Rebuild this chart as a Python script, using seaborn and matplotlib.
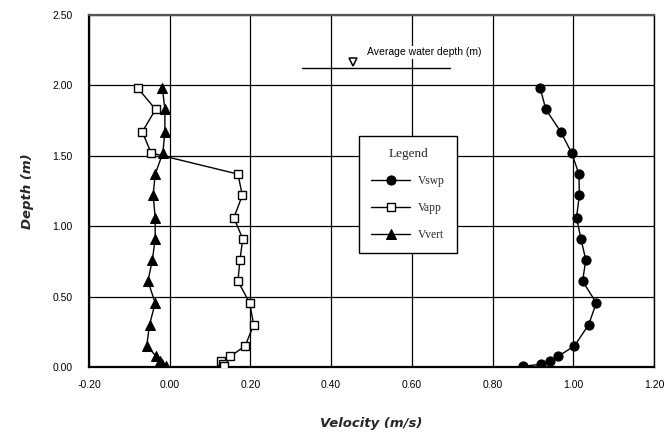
import numpy as np
import pandas as pd
import matplotlib
matplotlib.use("Agg")
import matplotlib.pyplot as plt
import seaborn as sns
from matplotlib.ticker import MultipleLocator, FormatStrFormatter

# ---- data ----
depth = [1.98, 1.83, 1.67, 1.52, 1.37, 1.22, 1.06, 0.91, 0.76, 0.61, 0.455, 0.30, 0.15,
         0.075, 0.045, 0.02, 0.005]
vswp = [0.918, 0.932, 0.969, 0.996, 1.014, 1.015, 1.008, 1.019, 1.031, 1.023, 1.057, 1.038,
        1.003, 0.962, 0.942, 0.920, 0.876]
vapp = [-0.079, -0.035, -0.068, -0.046, 0.169, 0.180, 0.159, 0.181, 0.174, 0.169, 0.198, 0.208,
        0.187, 0.150, 0.128, 0.133, 0.135]
vvert = [-0.018, -0.012, -0.012, -0.017, -0.036, -0.041, -0.036, -0.036, -0.043, -0.054, -0.036,
         -0.050, -0.057, -0.033, -0.025, -0.018, -0.010]
series_names = ["Vswp", "Vapp", "Vvert"]

x_ticks = [-0.20, 0.00, 0.20, 0.40, 0.60, 0.80, 1.00, 1.20]
y_ticks = [0.00, 0.50, 1.00, 1.50, 2.00, 2.50]

water_line_x = [0.327, 0.694]
water_line_y = [2.127, 2.127]
water_marker = (0.454, 2.163)
water_text = "Average water depth (m)"
water_text_pos = (0.488, 2.235)

# ---- figure ----
sns.set_theme(style="white")
plt.rcParams["font.family"] = ["Liberation Sans", "DejaVu Sans"]

fig = plt.figure(figsize=(6.67, 4.40), dpi=100)
ax = fig.add_axes([89 / 667, 1 - 367 / 440, (654 - 89) / 667, (367 - 15) / 440])

df = pd.DataFrame({"depth": depth, "Vswp": vswp, "Vapp": vapp, "Vvert": vvert})

styles = {
    "Vswp": dict(marker="o", markersize=6.6, markerfacecolor="black", markeredgecolor="black"),
    "Vapp": dict(marker="s", markersize=5.8, markerfacecolor="white", markeredgecolor="black",
                 markeredgewidth=1.0),
    "Vvert": dict(marker="^", markersize=6.8, markerfacecolor="black", markeredgecolor="black"),
}
for name in series_names:
    sns.lineplot(data=df, x=name, y="depth", sort=False, estimator=None, ax=ax,
                 color="black", linewidth=1.0, label=name, zorder=3, **styles[name])

# axis limits / ticks
ax.set_xlim(-0.2, 1.2)
ax.set_ylim(0.0, 2.5)
ax.set_xticks(x_ticks)
ax.set_yticks(y_ticks)
ax.xaxis.set_minor_locator(MultipleLocator(0.1))
ax.yaxis.set_minor_locator(MultipleLocator(0.1))
ax.xaxis.set_major_formatter(FormatStrFormatter("%.2f"))
ax.yaxis.set_major_formatter(FormatStrFormatter("%.2f"))
ax.tick_params(axis="both", which="major", direction="in", length=4, width=1,
               labelsize=7.5, colors="black")
ax.tick_params(axis="x", which="major", pad=9)
ax.tick_params(axis="y", which="major", pad=12)
ax.tick_params(axis="both", which="minor", direction="in", length=4, width=1, colors="black")
ax.tick_params(top=False, right=False, which="both")

ax.grid(True, which="major", color="black", linewidth=0.9)
ax.set_axisbelow(True)

for side in ["left", "bottom"]:
    ax.spines[side].set_linewidth(1.6)
    ax.spines[side].set_color("black")
ax.spines["right"].set_linewidth(1.0)
ax.spines["right"].set_color("black")
ax.spines["top"].set_linewidth(1.6)
ax.spines["top"].set_color("#555555")

ax.set_xlabel("Velocity (m/s)", fontsize=9.5, fontweight="bold", fontstyle="italic",
              family="DejaVu Sans", labelpad=20)
ax.set_ylabel("Depth (m)", fontsize=9.5, fontweight="bold", fontstyle="italic",
              family="DejaVu Sans", labelpad=13)

# average water depth annotation
ax.plot(water_line_x, water_line_y, color="black", linewidth=1.0, zorder=3)
ax.plot([water_marker[0]], [water_marker[1]], marker="v", markersize=5.5,
        markerfacecolor="white", markeredgecolor="black", markeredgewidth=1.1, zorder=3)
ax.text(water_text_pos[0], water_text_pos[1], water_text, fontsize=7.5, va="center",
        ha="left", color="black",
        bbox=dict(facecolor="white", edgecolor="none", pad=1.0), zorder=4)

# legend
leg = ax.legend(title="Legend", loc="upper left",
                bbox_to_anchor=(359 / 667, 1 - 136 / 440), bbox_transform=fig.transFigure,
                frameon=True, fancybox=False, shadow=False, framealpha=1.0,
                edgecolor="black", facecolor="white",
                prop={"family": "Liberation Serif", "size": 8.3},
                title_fontproperties={"family": "Liberation Serif", "size": 9.5},
                handlelength=3.4, handletextpad=0.7, labelspacing=1.3, borderpad=1.05,
                borderaxespad=0.0)
leg.get_frame().set_linewidth(1.0)
leg.set_zorder(5)

fig.savefig("out.png", dpi=100)
